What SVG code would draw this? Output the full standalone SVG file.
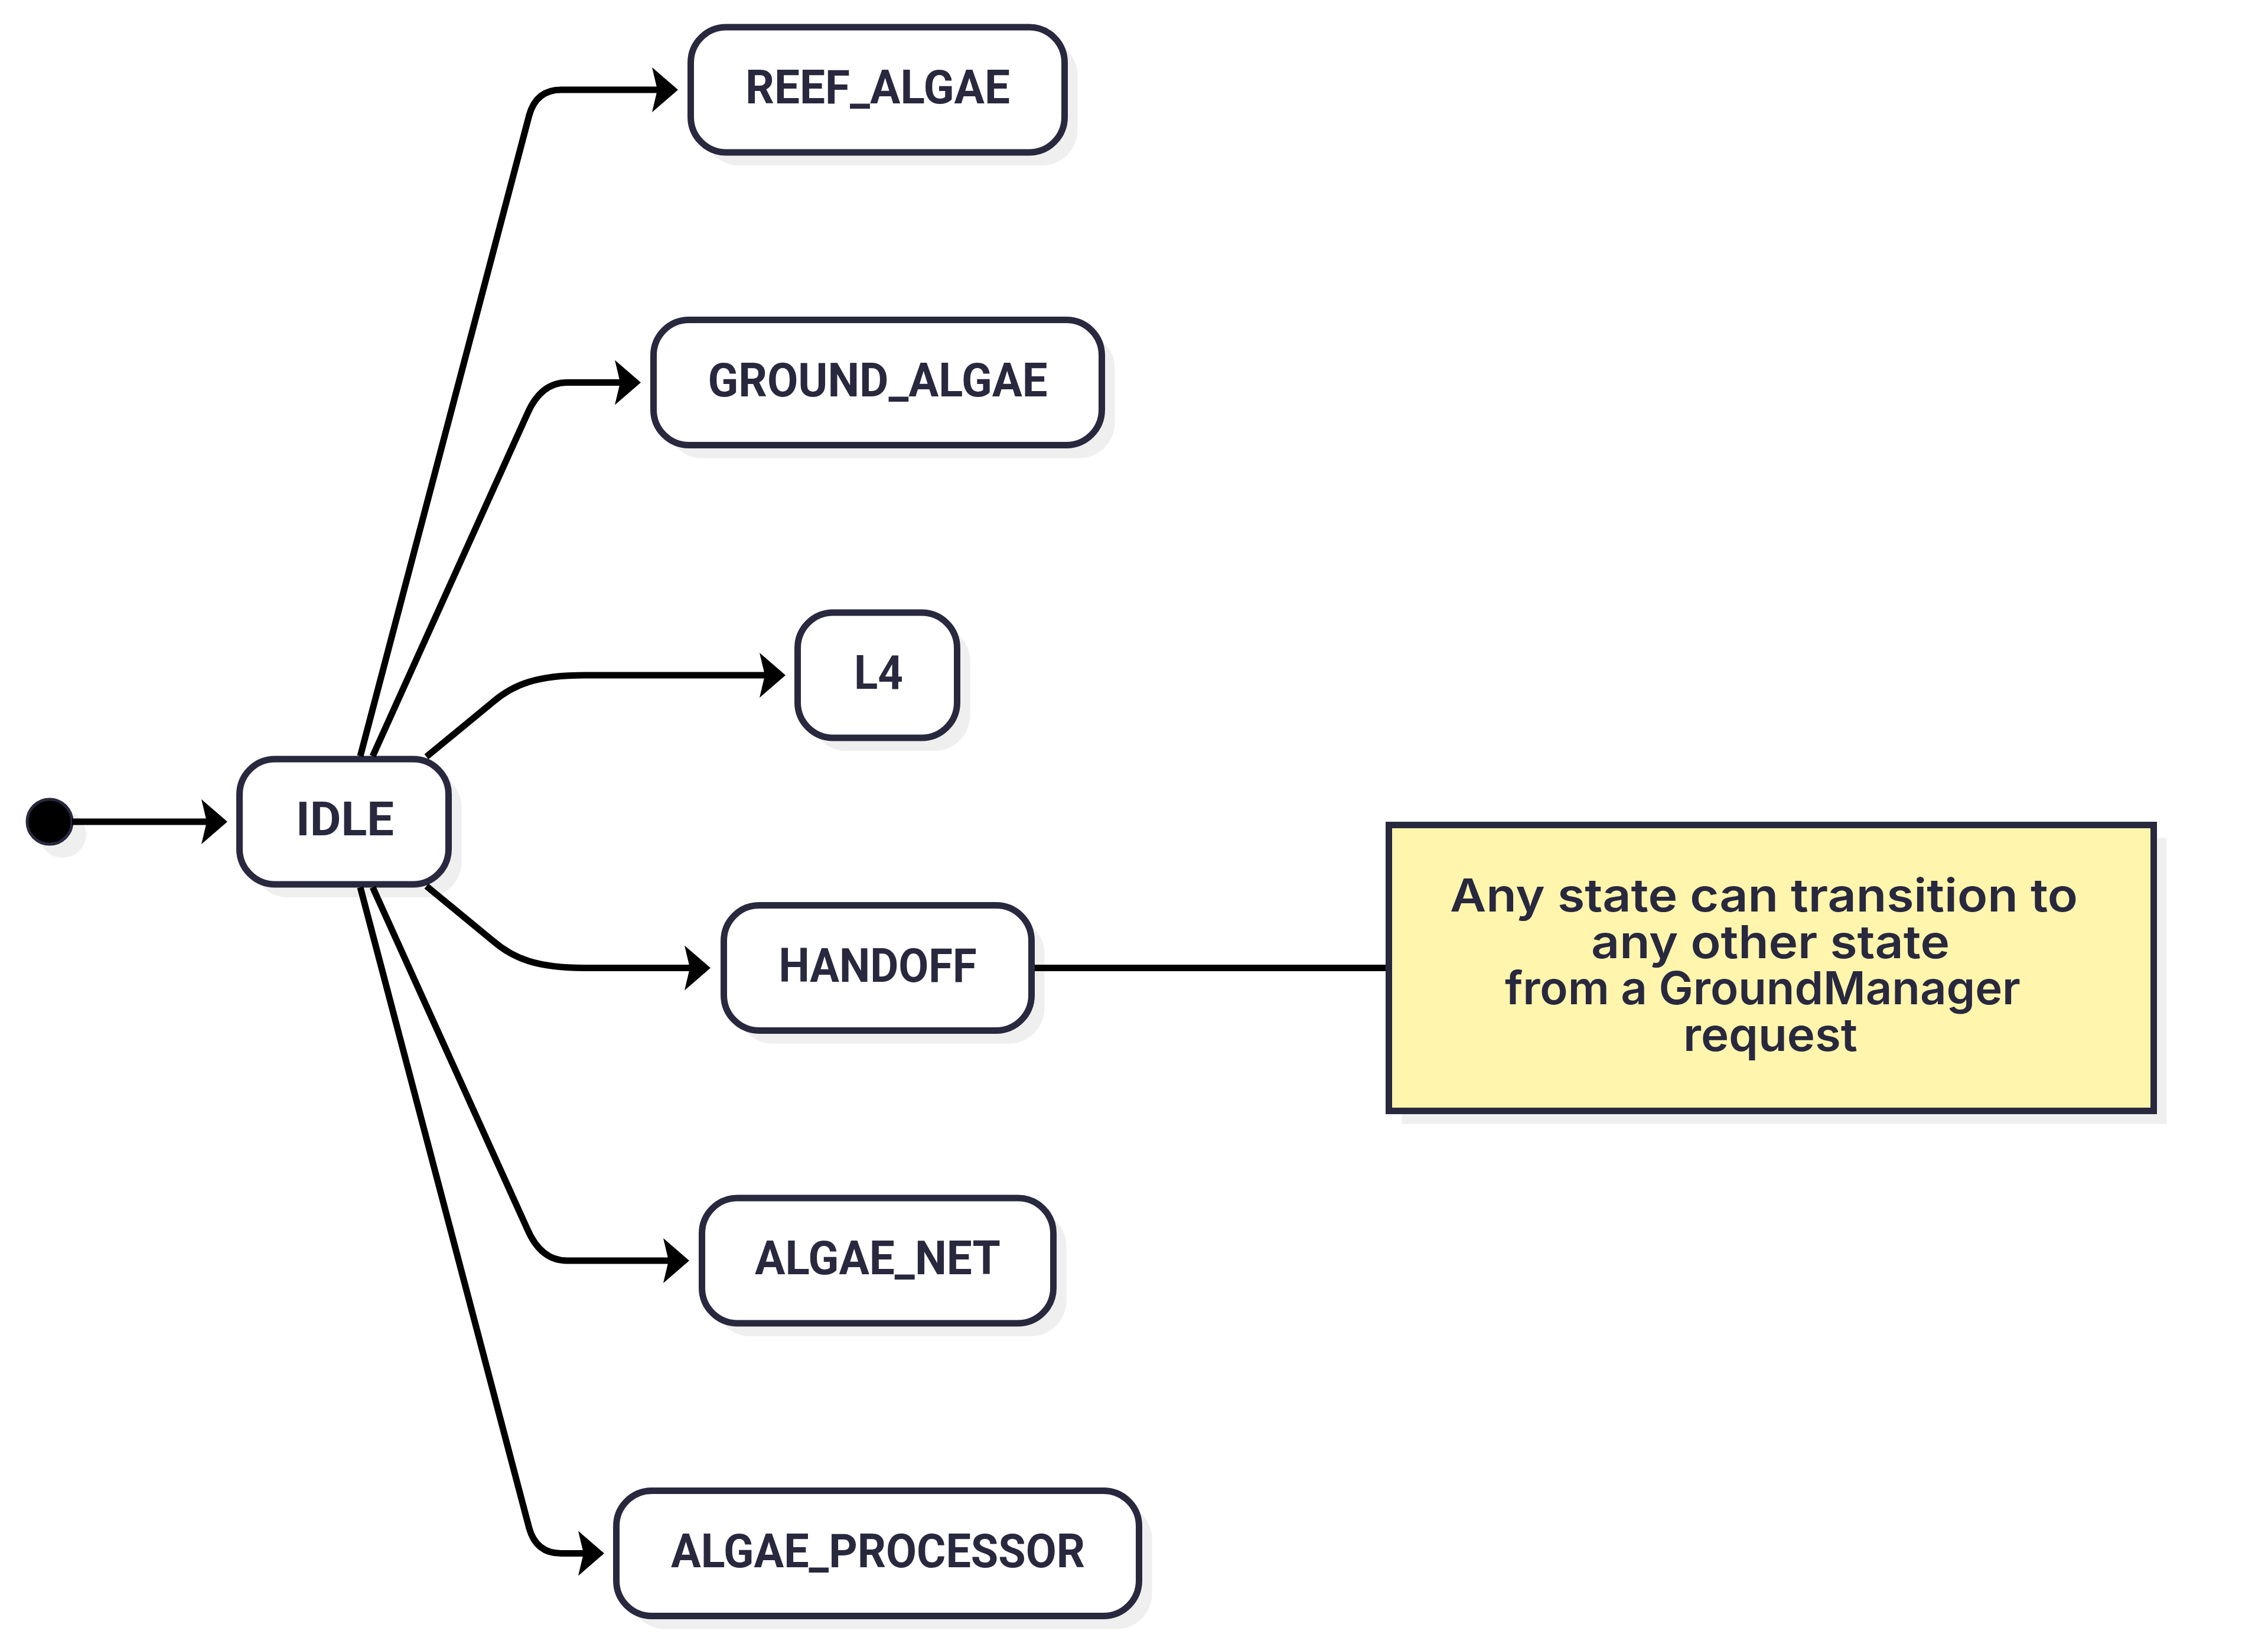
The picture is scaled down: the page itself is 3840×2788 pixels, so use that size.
<svg xmlns="http://www.w3.org/2000/svg" width="3840" height="2788" viewBox="0 0 3840 2788">
<defs>
<style>
.shadow{fill:#efefef;}
.state{fill:#ffffff;stroke:#28283e;stroke-width:11;}
.label{font-family:Roboto,"Liberation Sans",sans-serif;font-weight:700;font-size:79px;fill:#28283e;}
.edge{fill:none;stroke:#000000;stroke-width:11;}
.note{fill:#fff5ad;stroke:#28283e;stroke-width:11;}
.ntext{font-family:Inter,"Noto Sans",sans-serif;font-weight:600;font-size:77px;fill:#28283e;}
</style>
<marker id="arrow" markerUnits="userSpaceOnUse" viewBox="0 0 44 76" refX="9" refY="38" markerWidth="44" markerHeight="76" orient="auto">
<path d="M0,0 L44,38 L0,76 L9,38 z" fill="#000000"/>
</marker>
</defs>
<rect width="3840" height="2788" fill="#ffffff"/>

<g id="start">
<circle cx="106" cy="1412" r="40" class="shadow"/>
<circle cx="84" cy="1391" r="38" fill="#000000" stroke="#28283e" stroke-width="5"/>
</g>

<g id="IDLE">
<rect class="shadow" x="427.5" y="1307" width="354" height="212" rx="60"/>
<rect class="state" x="405.5" y="1285" width="354" height="212" rx="60"/>
<text class="label" x="501" y="1414" textLength="166" lengthAdjust="spacingAndGlyphs">IDLE</text>
</g>

<g id="REEF_ALGAE">
<rect class="shadow" x="1191.5" y="68" width="633" height="212" rx="60"/>
<rect class="state" x="1169.5" y="46" width="633" height="212" rx="60"/>
<text class="label" x="1262" y="175" textLength="448" lengthAdjust="spacingAndGlyphs">REEF_ALGAE</text>
</g>

<g id="GROUND_ALGAE">
<rect class="shadow" x="1128.5" y="563.5" width="759" height="212" rx="60"/>
<rect class="state" x="1106.5" y="541.5" width="759" height="212" rx="60"/>
<text class="label" x="1198.5" y="670.5" textLength="575" lengthAdjust="spacingAndGlyphs">GROUND_ALGAE</text>
</g>

<g id="L4">
<rect class="shadow" x="1372.5" y="1059" width="270" height="212" rx="60"/>
<rect class="state" x="1350.5" y="1037" width="270" height="212" rx="60"/>
<text class="label" x="1446" y="1166" textLength="83" lengthAdjust="spacingAndGlyphs">L4</text>
</g>

<g id="HANDOFF">
<rect class="shadow" x="1247.5" y="1554.5" width="521" height="212" rx="60"/>
<rect class="state" x="1225.5" y="1532.5" width="521" height="212" rx="60"/>
<text class="label" x="1318.5" y="1661.5" textLength="335" lengthAdjust="spacingAndGlyphs">HANDOFF</text>
</g>

<g id="ALGAE_NET">
<rect class="shadow" x="1210.5" y="2050" width="595" height="212" rx="60"/>
<rect class="state" x="1188.5" y="2028" width="595" height="212" rx="60"/>
<text class="label" x="1278" y="2157" textLength="416" lengthAdjust="spacingAndGlyphs">ALGAE_NET</text>
</g>

<g id="ALGAE_PROCESSOR">
<rect class="shadow" x="1065.5" y="2545.5" width="885" height="212" rx="60"/>
<rect class="state" x="1043.5" y="2523.5" width="885" height="212" rx="60"/>
<text class="label" x="1136" y="2652.5" textLength="701" lengthAdjust="spacingAndGlyphs">ALGAE_PROCESSOR</text>
</g>

<g id="note">
<rect class="shadow" x="2373.5" y="1418.5" width="1295" height="484"/>
<rect class="note" x="2351.5" y="1396.5" width="1295" height="484"/>
<text class="ntext" x="2455" y="1543" textLength="1063" lengthAdjust="spacingAndGlyphs">Any state can transition to</text>
<text class="ntext" x="2694" y="1622" textLength="607" lengthAdjust="spacingAndGlyphs">any other state</text>
<text class="ntext" x="2548" y="1700" textLength="873" lengthAdjust="spacingAndGlyphs">from a GroundManager</text>
<text class="ntext" x="2850" y="1779" textLength="295" lengthAdjust="spacingAndGlyphs">request</text>
</g>

<g id="connectors">
<path class="edge" d="M122,1391 L350,1391" marker-end="url(#arrow)"/>
<path class="edge" d="M610,1280 L896,195 Q908,152 950,152 L1113,152" marker-end="url(#arrow)"/>
<path class="edge" d="M631,1280 L893,700 Q916,647.5 960,647.5 L1050,647.5" marker-end="url(#arrow)"/>
<path class="edge" d="M722,1281 L835,1188 C870,1158 910,1143 990,1143 L1295,1143" marker-end="url(#arrow)"/>
<path class="edge" d="M722,1500 L835,1593 C870,1623 910,1638.5 990,1638.5 L1168,1638.5" marker-end="url(#arrow)"/>
<path class="edge" d="M631,1502 L893,2081 Q916,2134 960,2134 L1132,2134" marker-end="url(#arrow)"/>
<path class="edge" d="M610,1502 L896,2587 Q908,2629.5 950,2629.5 L988,2629.5" marker-end="url(#arrow)"/>
<path class="edge" d="M1752,1638.5 L2346,1638.5"/>
</g>
</svg>
